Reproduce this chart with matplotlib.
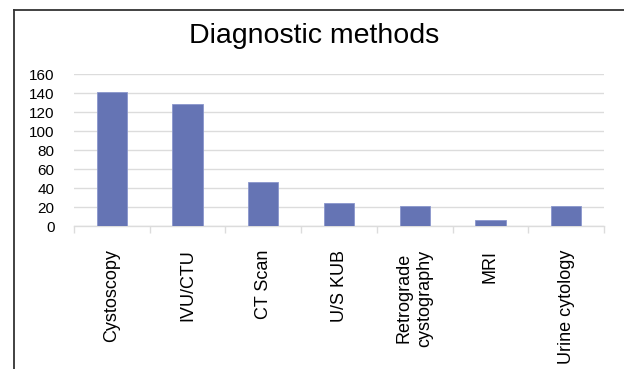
import matplotlib
matplotlib.use("Agg")
import matplotlib.pyplot as plt
from matplotlib.lines import Line2D
import numpy as np

plt.rcParams['font.family'] = ['Liberation Sans', 'DejaVu Sans']

methods = ['Cystoscopy', 'IVU/CTU', 'CT Scan', 'U/S KUB',
           'Retrograde\ncystography', 'MRI', 'Urine cytology']
counts = [141, 129, 46, 24, 21, 6, 21]
y_ticks = [0, 20, 40, 60, 80, 100, 120, 140, 160]

bar_color = '#6574b4'
grid_color = '#dcdcdc'

fig = plt.figure(figsize=(6.24, 3.69), dpi=100)
ax = fig.add_axes([0.1186, 0.3875, 0.968 - 0.1186, 0.7986 - 0.3875])

x = np.arange(len(methods))
ax.bar(x, counts, width=0.4, color=bar_color, edgecolor='#8a96cc',
       linewidth=0.6, zorder=3)

ax.set_xlim(-0.5, len(methods) - 0.5)
ax.set_ylim(0, 160)
ax.set_yticks(y_ticks)
ax.set_yticklabels([str(v) for v in y_ticks], fontsize=11,
                   family=['Liberation Sans Narrow', 'Liberation Sans'])
ax.yaxis.grid(True, color=grid_color, linewidth=1, zorder=0)
ax.set_axisbelow(True)

ax.set_xticks(x)
ax.set_xticklabels(methods, rotation=90, fontsize=13, va='top', ha='center',
                   linespacing=1.3)
ax.set_xticks(np.arange(len(methods) + 1) - 0.5, minor=True)
ax.tick_params(axis='x', which='major', length=0, pad=17)
ax.tick_params(axis='x', which='minor', length=5, color=grid_color, width=1)
ax.tick_params(axis='y', length=0, pad=14)

for side in ['left', 'right', 'top']:
    ax.spines[side].set_visible(False)
ax.spines['bottom'].set_color(grid_color)
ax.spines['bottom'].set_linewidth(1)

fig.text(0.503, 1 - 42.7 / 369, 'Diagnostic methods', fontsize=20.5,
         ha='center', va='baseline')

# outer frame (top and left only, as in the source crop)
fx = 13.5 / 624
fy = 1 - 9.5 / 369
fig.add_artist(Line2D([fx, 1], [fy, fy], color='#333333', linewidth=1.3))
fig.add_artist(Line2D([fx, fx], [0, fy], color='#333333', linewidth=1.3))

fig.savefig('out.png', dpi=100)
